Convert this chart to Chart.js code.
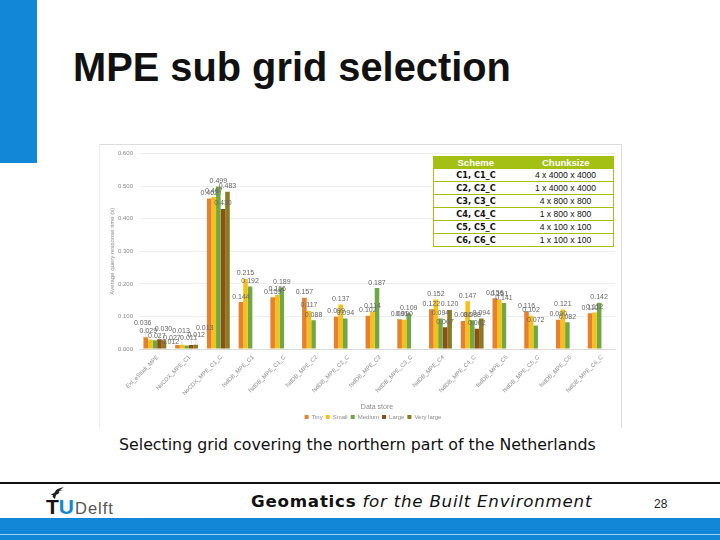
<!DOCTYPE html>
<html>
<head>
<meta charset="utf-8">
<title>MPE sub grid selection</title>
<script src="https://cdn.jsdelivr.net/npm/chart.js@4/dist/chart.umd.min.js"></script>
<style>
html, body { margin: 0; padding: 0; background: #fff; }
#slide { position: relative; width: 720px; height: 540px; overflow: hidden; background: #fff; }
#slide > * { position: absolute; }
#bloque { left: 0; top: 0; width: 37px; height: 163px; background: #1287d8; }
#titulo { left: 73px; top: 45px; font: bold 39.8px "Liberation Sans", sans-serif; color: #111; white-space: nowrap; }
#panel { left: 99px; top: 144px; width: 523px; height: 284px; background: #fff; border-top: 1px solid #ddd; border-left: 1px solid #eee; border-right: 1px solid #ddd; box-sizing: border-box; }
#chartWrap { left: 99px; top: 144px; width: 523px; height: 284px; }
#tabla { left: 433px; top: 156px; width: 181px; height: 89px; border-collapse: collapse; font: 8.6px "Liberation Sans", sans-serif; color: #111; background: #fff; }
#tabla th { background: #a5c014; color: #fff; font: bold 9.5px "Liberation Sans", sans-serif; border: 1px solid #a5c014; padding: 0; }
#tabla td { border-top: 1px solid #a5c014; border-bottom: 1px solid #a5c014; padding: 0; text-align: center; height: 12px; }
#tabla td:first-child { border-left: 1px solid #a5c014; font: bold 8.2px "DejaVu Sans", sans-serif; width: 84px; }
#tabla td:last-child { border-right: 1px solid #a5c014; }
#caption { left: 119px; top: 435px; font: 15.8px "DejaVu Sans", sans-serif; color: #111; white-space: nowrap; }
#linea { left: 0; top: 482px; width: 720px; height: 2px; background: #111; }
#logo { left: 46px; top: 495px; font: 16.5px "Liberation Sans", sans-serif; letter-spacing: 1px; color: #555; white-space: nowrap; }
#logo b { color: #111; font-size: 21px; letter-spacing: 0; }
#logo i { color: #1287d8; font-style: normal; font-weight: bold; font-size: 21px; letter-spacing: 0; margin-right: 1px; }
#llama { left: 50px; top: 487px; }
#pie { left: 251px; top: 491px; font: 16.7px "DejaVu Sans", sans-serif; letter-spacing: 0.75px; color: #111; white-space: nowrap; }
#pie b { font-weight: bold; }
#pie em { font-style: oblique; }
#pagina { left: 654px; top: 497px; font: 12px "Liberation Sans", sans-serif; color: #222; }
#banda { left: 0; top: 518px; width: 720px; height: 22px; background: #1287d8; }
#rayita { left: 0; top: 534px; width: 720px; height: 1px; background: #9fd0f0; }
</style>
</head>
<body>
<div id="slide">
  <div id="bloque"></div>
  <div id="titulo">MPE sub grid selection</div>
  <div id="panel"></div>
  <div id="chartWrap"><canvas id="chartCanvas" width="523" height="284"></canvas></div>
  <table id="tabla"><tbody id="tablaBody"></tbody></table>
  <div id="caption">Selecting grid covering the northern part of the Netherlands</div>
  <div id="linea"></div>
  <svg id="llama" width="15" height="12" viewBox="0 0 15 12"><path d="M14 0 C10 1 6 2 5 5 C4 7 2 6 1 8 L3 8 C2 9 3 11 5 12 L6 8 C8 7 10 6 9 4 L13 3 L10 3 Z" fill="#222"/></svg>
  <div id="logo"><b>T</b><i>U</i>Delft</div>
  <div id="pie"><b>Geomatics</b> <em>for the Built Environment</em></div>
  <div id="pagina">28</div>
  <div id="banda"></div>
  <div id="rayita"></div>
</div>
<script>
const categorias = ['Ext_eStudi_MPE', 'NoCDX_MPE_C1', 'NoCDX_MPE_C1_C', 'fsdDB_MPE_C1', 'fsdDB_MPE_C1_C',
    'fsdDB_MPE_C2', 'fsdDB_MPE_C2_C', 'fsdDB_MPE_C3', 'fsdDB_MPE_C3_C', 'fsdDB_MPE_C4',
    'fsdDB_MPE_C4_C', 'fsdDB_MPE_C5', 'fsdDB_MPE_C5_C', 'fsdDB_MPE_C6', 'fsdDB_MPE_C6_C'];
const tiny = [0.036, 0.012, 0.462, 0.144, 0.159, 0.157, 0.099, 0.102, 0.091, 0.122, 0.086, 0.156, 0.116, 0.090, 0.110];
const small = [0.029, 0.013, 0.467, 0.215, 0.166, 0.117, 0.137, 0.114, 0.090, 0.152, 0.147, 0.151, 0.102, 0.121, 0.112];
const medium = [0.027, 0.011, 0.499, 0.192, 0.189, 0.088, 0.094, 0.187, 0.109, 0.094, 0.088, 0.141, 0.072, 0.082, 0.142];
const large = [0.030, 0.012, 0.430, null, null, null, null, null, null, 0.067, 0.062, null, null, null, null];
const veryLarge = [0.027, 0.013, 0.483, null, null, null, null, null, null, 0.120, 0.094, null, null, null, null];
const yTicks = ['0.000', '0.100', '0.200', '0.300', '0.400', '0.500', '0.600'];
const esquemas = ['C1, C1_C', 'C2, C2_C', 'C3, C3_C', 'C4, C4_C', 'C5, C5_C', 'C6, C6_C'];
const chunks = ['4 x 4000 x 4000', '1 x 4000 x 4000', '4 x 800 x 800', '1 x 800 x 800', '4 x 100 x 100', '1 x 100 x 100'];

// tabla de esquemas
let filas = '<tr><th>Scheme</th><th>Chunksize</th></tr>';
esquemas.forEach((e, i) => { filas += '<tr><td>' + e + '</td><td>' + chunks[i] + '</td></tr>'; });
document.getElementById('tablaBody').innerHTML = filas;

// desplazamiento de las etiquetas de los dos primeros grupos (con linea guia), por serie: [dx, dy]
const desplazar = {
    0: [[-3, -9], [-2, -3], [2, 1], [4, -5], [8, 3]],
    1: [[-7, 2], [-1, -8], [2, -2], [5, -5], [9, -11]]
};

// etiquetas de valor encima de cada barra
const etiquetas = {
    id: 'etiquetas',
    afterLayout(c) {
        // la leyenda no esta centrada en el lienzo
        c.legend.left += 16;
        c.legend.right += 16;
        c.legend.top += 2;
    },
    afterDatasetsDraw(c) {
        const ctx = c.ctx;
        ctx.save();
        ctx.font = '7px "Liberation Sans", sans-serif';
        ctx.fillStyle = '#666';
        ctx.strokeStyle = '#bbb';
        ctx.lineWidth = 0.5;
        ctx.textAlign = 'center';
        ctx.textBaseline = 'bottom';
        c.data.datasets.forEach((ds, d) => {
            c.getDatasetMeta(d).data.forEach((bar, i) => {
                if (ds.data[i] == null) return;
                const mover = desplazar[i] ? desplazar[i][d] : [0, 0];
                if (mover[1] < -4) {
                    ctx.beginPath();
                    ctx.moveTo(bar.x, bar.y);
                    ctx.lineTo(bar.x, bar.y + mover[1] - 1);
                    ctx.stroke();
                }
                ctx.fillText(ds.data[i].toFixed(3), bar.x + mover[0], bar.y - 2 + mover[1]);
            });
        });
        ctx.restore();
    }
};

const colorTexto = '#8a8a8a';
new Chart(document.getElementById('chartCanvas').getContext('2d'), {
    type: 'bar',
    plugins: [etiquetas],
    data: {
        labels: categorias,
        datasets: [
            { label: 'Tiny', data: tiny, backgroundColor: '#e5802f' },
            { label: 'Small', data: small, backgroundColor: '#f5c116' },
            { label: 'Medium', data: medium, backgroundColor: '#70a845' },
            { label: 'Large', data: large, backgroundColor: '#8f4e14' },
            { label: 'Very large', data: veryLarge, backgroundColor: '#8a7a20' }
        ]
    },
    options: {
        responsive: false,
        animation: false,
        layout: { padding: { top: 7.5, right: 7, left: 0, bottom: 0 } },
        datasets: { bar: { categoryPercentage: 0.72, barPercentage: 1 } },
        plugins: {
            tooltip: { enabled: false },
            legend: {
                position: 'bottom',
                labels: { boxWidth: 4, boxHeight: 4, padding: 3, color: colorTexto, font: { size: 6, family: 'Liberation Sans' } }
            }
        },
        scales: {
            x: {
                grid: { display: false },
                border: { color: '#ddd' },
                afterFit(s) { s.height = 60; },
                ticks: { color: colorTexto, font: { size: 5.8, family: 'Liberation Sans' }, minRotation: 45, maxRotation: 45, autoSkip: false, padding: -3, labelOffset: 3 },
                title: { display: true, text: 'Data store', color: colorTexto, font: { size: 7, family: 'Liberation Sans' }, padding: { top: 0, bottom: -2 } }
            },
            y: {
                min: 0,
                max: 0.6,
                afterFit(s) { s.width = 40; },
                afterBuildTicks(s) { s.ticks = yTicks.map(v => ({ value: parseFloat(v) })); },
                grid: { color: '#eeeeee', drawTicks: false },
                border: { display: false },
                ticks: { color: colorTexto, font: { size: 6, family: 'Liberation Sans' }, padding: 6, callback: v => v.toFixed(3) },
                title: { display: true, text: 'Average query response time (s)', color: colorTexto, font: { size: 6, family: 'Liberation Sans' }, padding: { top: 10, bottom: 0 } }
            }
        }
    }
});
</script>
</body>
</html>
